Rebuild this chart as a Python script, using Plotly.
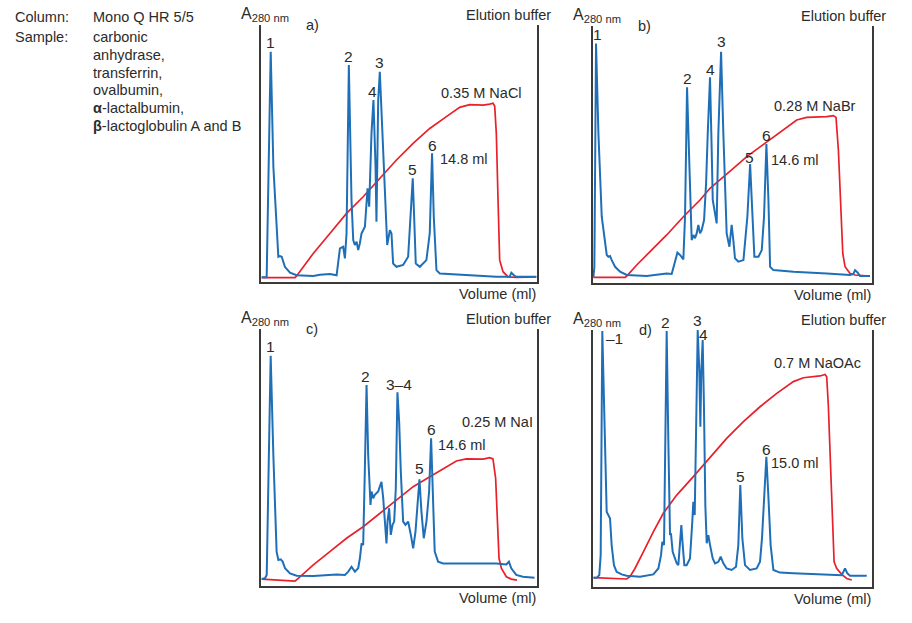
import plotly.graph_objects as go

# Chromatogramme: Volumen (ml) gegen A280 (relativ, 0-100) und Gradient (relativ, 0-100)

# a) NaCl
a_vol = [0.06, 0.49, 0.84, 1.07, 1.50, 1.64, 1.79, 2.07, 2.51, 3.08, 4.52, 5.10, 5.96, 6.54, 6.83, 7.11,
         7.26, 7.40, 7.60, 7.83, 7.98, 8.12, 8.27, 8.41, 8.55, 8.70, 8.99, 9.13, 9.22, 9.36, 9.56, 9.73,
         9.91, 9.99, 10.14, 10.28, 10.51, 10.71, 10.92, 11.15, 11.29, 11.43, 11.72, 12.30, 12.73, 13.02,
         13.13, 13.25, 13.39, 13.74, 14.31, 14.60, 14.80, 14.95, 15.18, 15.47, 17.48, 20.36, 21.51,
         21.66, 21.86, 22.09, 23.82]
a_abs = [1.7, 1.7, 89.6, 44.8, 9.7, 10.0, 9.7, 5.8, 3.5, 2.5, 2.2, 2.7, 3.0, 2.5, 13.0, 13.6,
         9.1, 18.8, 84.4, 31.8, 16.2, 14.3, 15.6, 12.3, 14.9, 18.8, 21.4, 31.8, 36.4, 29.2, 57.8, 70.8,
         44.8, 23.4, 70.8, 81.8, 55.2, 31.8, 14.3, 20.1, 18.8, 7.1, 5.8, 6.5, 9.7, 31.8,
         40.3, 25.3, 7.1, 5.8, 8.4, 18.8, 50.0, 25.3, 4.5, 3.2, 2.6, 1.9, 1.9,
         3.5, 2.6, 1.9, 1.9]
a_grad_vol = [0.06, 2.94, 3.08, 4.52, 5.96, 7.40, 8.84, 10.28, 11.72, 13.16, 14.60, 16.04, 17.19,
              18.06, 19.21, 19.79, 20.07, 20.22, 20.36, 20.51, 20.65, 20.94, 21.37, 22.09, 23.82]
a_grad = [1.6, 1.6, 2.2, 11.0, 18.8, 26.6, 33.1, 40.3, 47.4, 53.9, 59.7, 64.3, 67.9,
          69.0, 68.8, 69.2, 69.5, 68.4, 57.8, 31.8, 8.4, 3.9, 1.9, 1.7, 1.9]
a_labels = ["1", "2", "3", "4", "5", "6"]
a_label_x = [0.84, 7.60, 10.28, 9.62, 13.13, 14.80]
a_label_y = [93.1, 87.7, 85.3, 74.0, 43.8, 53.0]

# b) NaBr
b_vol = [0.06, 0.14, 0.28, 0.48, 0.76, 1.18, 1.32, 1.46, 1.60, 1.88, 2.30, 2.86, 4.54, 5.66, 6.22,
         6.64, 6.92, 7.12, 7.34, 7.62, 7.76, 7.93, 8.13, 8.32, 8.46, 8.60, 8.74, 8.88, 9.02, 9.16,
         9.36, 9.53, 9.67, 9.86, 10.00, 10.09, 10.28, 10.42, 10.56, 10.79, 10.98, 11.26, 11.49, 11.68,
         11.82, 11.96, 12.24, 12.67, 13.00, 13.23, 13.42, 13.59, 13.93, 14.21, 14.40, 14.60, 14.77,
         14.91, 15.19, 16.87, 19.67, 21.63, 21.91, 22.05, 22.28, 22.47, 23.31]
b_abs = [2.1, 6.2, 93.2, 58.2, 25.7, 10.8, 10.1, 10.4, 8.8, 6.2, 4.3, 3.0, 2.6, 3.4, 3.6,
         3.4, 8.8, 11.7, 10.8, 9.1, 25.7, 76.1, 45.2, 16.6, 18.6, 17.3, 19.2, 22.5, 19.2, 20.5,
         24.4, 38.7, 58.2, 80.0, 51.7, 32.2, 27.0, 23.1, 58.2, 90.0, 58.2, 19.2, 14.0, 22.5,
         16.6, 9.5, 8.2, 8.8, 25.7, 46.2, 27.0, 10.1, 10.1, 12.7, 25.7, 54.0, 32.2,
         6.2, 4.9, 4.3, 3.6, 3.0, 3.4, 4.9, 3.9, 2.6, 2.6]
b_grad_vol = [0.06, 2.72, 2.86, 3.70, 4.82, 6.22, 7.62, 9.02, 9.86, 10.70, 11.82, 12.95, 14.07,
              15.19, 16.31, 17.15, 17.99, 19.67, 20.23, 20.45, 20.65, 20.85, 21.02, 21.21, 21.63,
              22.05, 23.31]
b_grad = [2.1, 2.1, 2.6, 6.9, 12.1, 18.6, 25.7, 32.2, 36.8, 40.0, 44.5, 49.1, 53.0,
          56.9, 60.8, 63.4, 64.4, 64.7, 65.1, 64.4, 51.7, 32.2, 11.4, 6.2, 3.6,
          3.0, 2.6]
b_labels = ["1", "2", "3", "4", "5", "6"]
b_label_x = [0.39, 7.93, 10.79, 9.86, 13.14, 14.60]
b_label_y = [96.6, 79.4, 93.9, 82.9, 48.8, 57.5]

# c) NaI
c_vol = [0.06, 0.34, 0.49, 0.83, 1.06, 1.34, 1.49, 1.69, 1.86, 2.06, 2.49, 3.06, 4.49, 5.63, 6.49,
         7.20, 7.49, 7.77, 8.06, 8.34, 8.49, 8.63, 8.77, 8.91, 9.06, 9.20, 9.40, 9.49, 9.63, 9.77,
         9.91, 10.06, 10.20, 10.34, 10.49, 10.63, 10.77, 10.86, 11.00, 11.14, 11.29, 11.43, 11.57,
         11.71, 11.86, 12.00, 12.20, 12.40, 12.63, 12.86, 13.06, 13.26, 13.43, 13.60, 13.77, 13.97,
         14.20, 14.43, 14.60, 14.77, 14.91, 15.20, 15.63, 17.34, 20.20, 21.06, 21.28, 21.48, 21.91,
         22.48, 23.48]
c_abs = [2.7, 3.0, 4.3, 89.7, 51.0, 13.4, 10.1, 10.4, 9.5, 6.9, 4.9, 4.0, 3.9, 4.3, 4.5,
         4.3, 5.6, 7.5, 5.6, 6.9, 10.8, 16.6, 16.0, 44.5, 78.3, 51.0, 31.6, 36.8, 34.2, 35.5,
         36.1, 36.8, 38.7, 40.6, 34.2, 25.1, 16.6, 25.1, 30.3, 19.9, 23.8, 25.1, 38.1,
         75.5, 64.0, 44.5, 25.1, 23.8, 25.1, 19.9, 14.7, 21.2, 31.6, 41.6, 29.0, 18.6,
         25.1, 36.8, 57.5, 31.6, 13.4, 9.5, 8.8, 8.8, 8.8, 8.4, 9.5, 6.9, 4.3,
         3.6, 3.2]
c_grad_vol = [0.06, 1.63, 2.91, 3.20, 4.49, 5.91, 7.34, 8.77, 10.20, 11.63, 13.06, 14.49, 15.63,
              16.77, 17.63, 19.06, 19.63, 19.91, 20.14, 20.28, 20.43, 20.63, 21.06, 21.48, 21.97]
c_grad = [2.7, 2.3, 1.9, 3.0, 8.2, 13.4, 18.6, 23.1, 28.3, 33.5, 38.7, 42.6, 45.8,
          48.7, 49.5, 49.4, 50.0, 49.5, 41.9, 25.1, 10.8, 6.9, 3.6, 2.7, 2.3]
c_labels = ["1", "2", "3–4", "5", "6"]
c_label_x = [0.83, 8.97, 11.83, 13.60, 14.60]
c_label_y = [93.2, 81.6, 78.6, 45.8, 60.8]

# d) NaOAc
d_vol = [0.00, 0.29, 0.52, 0.64, 0.78, 0.95, 1.16, 1.30, 1.45, 1.59, 1.79, 2.02, 2.46, 2.89, 4.05,
         5.20, 5.64, 5.87, 5.98, 6.13, 6.24, 6.36, 6.50, 6.65, 6.73, 6.88, 7.08, 7.23, 7.37, 7.51,
         7.63, 7.75, 7.89, 8.09, 8.38, 8.58, 8.67, 8.79, 8.90, 9.05, 9.19, 9.28, 9.36, 9.48, 9.59,
         9.71, 9.83, 9.97, 10.12, 10.35, 10.55, 10.84, 11.04, 11.27, 11.56, 11.99, 12.37, 12.57,
         12.74, 12.92, 13.15, 13.58, 14.16, 14.45, 14.62, 14.83, 15.00, 15.17, 15.37, 15.61, 16.18,
         17.34, 20.23, 21.53, 21.68, 21.82, 22.02, 22.25, 23.70]
d_abs = [3.5, 3.5, 4.5, 12.3, 99.6, 70.8, 29.2, 27.9, 26.6, 16.2, 8.4, 5.8, 4.8, 4.3, 3.9,
         4.8, 7.1, 12.3, 17.5, 16.2, 57.8, 99.6, 57.8, 20.1, 20.8, 13.6, 11.0, 9.1, 8.4, 16.2,
         24.0, 16.2, 8.4, 8.4, 11.0, 25.3, 33.1, 27.9, 57.8, 100.0, 83.8, 62.3, 83.8, 96.1, 70.8,
         31.8, 16.9, 20.1, 16.2, 11.0, 9.1, 9.7, 11.7, 9.1, 7.1, 6.5, 7.8, 16.2,
         39.6, 18.8, 8.4, 6.5, 7.1, 9.7, 18.8, 38.3, 50.6, 35.7, 16.2, 6.5, 5.5,
         5.2, 4.8, 4.5, 5.8, 7.1, 5.2, 4.3, 4.3]
d_grad_vol = [0.00, 1.45, 2.89, 3.18, 3.61, 4.34, 5.20, 6.07, 7.23, 8.67, 10.12, 11.56, 13.01,
              14.45, 15.90, 17.34, 18.21, 19.65, 20.09, 20.23, 20.37, 20.58, 20.75, 20.87, 21.10,
              21.53, 21.96, 22.40]
d_grad = [3.5, 3.2, 3.0, 3.9, 7.1, 13.6, 21.4, 28.6, 35.7, 42.9, 50.6, 57.8, 64.3,
          70.1, 75.3, 79.9, 81.4, 82.1, 82.7, 81.8, 70.8, 44.8, 18.8, 9.7, 7.1,
          4.8, 3.2, 2.6]
d_labels = ["2", "3", "4", "5", "6"]
d_label_x = [6.27, 9.02, 9.59, 12.74, 15.00]
d_label_y = [103.0, 103.6, 98.1, 43.1, 53.6]

salts = ["0.35 M NaCl", "0.28 M NaBr", "0.25 M NaI", "0.7 M NaOAc"]
salt_x = [19.07, 18.69, 20.34, 19.42]
salt_y = [73.6, 68.8, 64.0, 87.3]
elution_ml = ["14.8 ml", "14.6 ml", "14.6 ml", "15.0 ml"]
elution_x = [15.32, 14.85, 15.0, 15.26]
elution_y = [47.7, 47.8, 54.9, 48.1]
panel_names = ["a)", "b)", "c)", "d)"]
vol_max = [23.88, 23.45, 23.69, 24.13]

column = "Mono Q HR 5/5"
sample = ["carbonic", "anhydrase,", "transferrin,", "ovalbumin,",
          "<b>α</b>-lactalbumin,", "<b>β</b>-lactoglobulin A and B"]

W, H = 912, 623
BLUE = "#1f6fb8"
RED = "#e8202a"
TXT = "#2b2b2b"
FONT = "Liberation Sans, Arial, sans-serif"
f = dict(family=FONT, size=14.5, color=TXT)
fpk = dict(family=FONT, size=15.5, color=TXT)
fa = dict(family=FONT, size=16, color=TXT)

fig = go.Figure()

# Achsenbereiche in Pixeln: links, rechts, oben, unten
boxes = [(261, 537, 25, 281.7), (592.7, 871.7, 26, 282.7),
         (261, 537, 329.3, 586), (593.3, 871.7, 330, 586.7)]

panels = [(a_vol, a_abs, a_grad_vol, a_grad, a_labels, a_label_x, a_label_y),
          (b_vol, b_abs, b_grad_vol, b_grad, b_labels, b_label_x, b_label_y),
          (c_vol, c_abs, c_grad_vol, c_grad, c_labels, c_label_x, c_label_y),
          (d_vol, d_abs, d_grad_vol, d_grad, d_labels, d_label_x, d_label_y)]


def note(px, py, text, xanchor="center", font=f):
    return dict(x=px / W, y=1 - py / H, xref="paper", yref="paper", text=text,
                xanchor=xanchor, yanchor="middle", showarrow=False, font=font)


annotations = []
layout_axes = {}
for i, (vol, ab, gvol, grad, labs, lx, ly) in enumerate(panels):
    n = "" if i == 0 else str(i + 1)
    xa, ya = "x" + n, "y" + n
    left, right, top, bottom = boxes[i]
    xmax = vol_max[i]
    layout_axes["xaxis" + n] = dict(domain=[left / W, right / W], range=[0, xmax], anchor=ya,
                                    showline=True, linecolor="#3a3a3a", linewidth=1.5,
                                    showgrid=False, zeroline=False, showticklabels=False, ticks="")
    layout_axes["yaxis" + n] = dict(domain=[1 - bottom / H, 1 - top / H], range=[0, 100], anchor=xa,
                                    showline=True, linecolor="#3a3a3a", linewidth=1.5, mirror=True,
                                    showgrid=False, zeroline=False, showticklabels=False, ticks="")

    fig.add_trace(go.Scatter(x=gvol, y=grad, mode="lines", xaxis=xa, yaxis=ya,
                             line=dict(color=RED, width=1.7), showlegend=False, cliponaxis=False))
    fig.add_trace(go.Scatter(x=vol, y=ab, mode="lines", xaxis=xa, yaxis=ya,
                             line=dict(color=BLUE, width=2), showlegend=False, cliponaxis=False))

    # Daten -> Pixel für die Textpositionen
    def to_px(x, y):
        return left + x / xmax * (right - left), bottom - y / 100 * (bottom - top)

    annotations += [
        note(left - 22, top - 11, "A<sub>280 nm</sub>", "left", fa),
        note(right + 16, top - 10, "Elution buffer", "right"),
        note(right + 1, bottom + 12, "Volume (ml)", "right"),
        note(left + (51 if i % 2 == 0 else 52), top, panel_names[i]),
        note(*to_px(salt_x[i], salt_y[i]), salts[i]),
        note(*to_px(elution_x[i], elution_y[i]), elution_ml[i], "left"),
    ]
    for t, x, y in zip(labs, lx, ly):
        annotations.append(note(*to_px(x, y), t, font=fpk))

# "–1" in d) mit Strich
annotations.append(note(593.3 + 0.95 / vol_max[3] * 278.4, 586.7 - 0.965 * 256.7, "–1", "left", fpk))

# Text links oben
annotations.append(note(13, 17, "Column:", "left"))
annotations.append(note(91, 17, column, "left"))
annotations.append(note(13, 37, "Sample:", "left"))
for k, s in enumerate(sample):
    annotations.append(note(91, 37 + 17.8 * k, s, "left"))

fig.update_layout(width=W, height=H, margin=dict(l=0, r=0, t=0, b=0),
                  paper_bgcolor="white", plot_bgcolor="white",
                  annotations=annotations, **layout_axes)

fig.write_html("out.html", config={"displayModeBar": False},
               post_script="document.body.style.margin='0';")
